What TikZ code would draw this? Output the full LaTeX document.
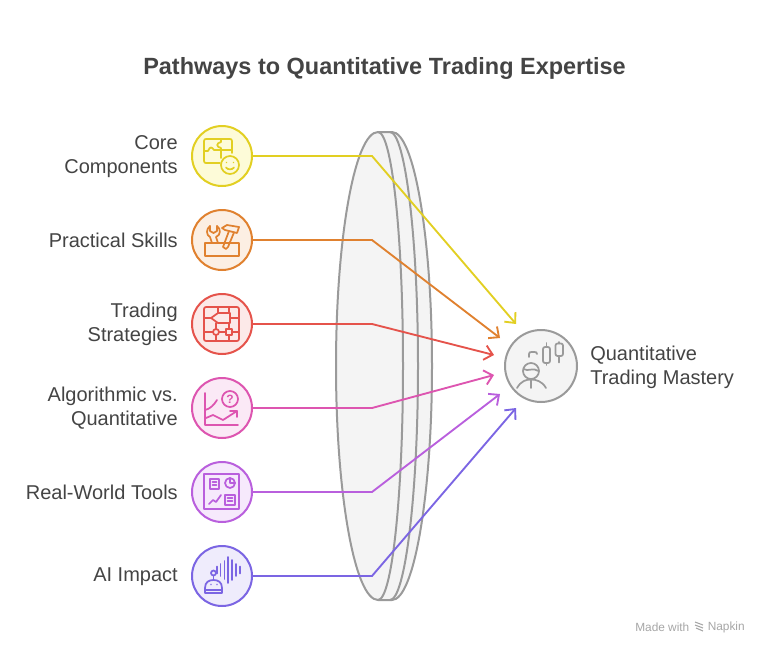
\documentclass[tikz,border=0pt]{standalone}
\usepackage{fontspec}
\setmainfont{Liberation Sans}
\usetikzlibrary{arrows.meta}
\definecolor{ink}{HTML}{444444}
\definecolor{lensline}{HTML}{9A9A9A}
\definecolor{lensfill}{HTML}{F4F4F4}
\definecolor{coreC}{HTML}{E2CF22}
\definecolor{coreF}{HTML}{FDFBD8}
\definecolor{skillC}{HTML}{E0812F}
\definecolor{skillF}{HTML}{FCEFE3}
\definecolor{stratC}{HTML}{E5534B}
\definecolor{stratF}{HTML}{FCE9E8}
\definecolor{algoC}{HTML}{DD55B0}
\definecolor{algoF}{HTML}{FBE9F6}
\definecolor{toolC}{HTML}{B95FDD}
\definecolor{toolF}{HTML}{F6E9FC}
\definecolor{aiC}{HTML}{7B65E3}
\definecolor{aiF}{HTML}{EFECFC}
\tikzset{
	badge/.style={circle, draw=#1, line width=1.5pt, minimum size=45pt, inner sep=0pt},
	label/.style={text=ink, font=\fontsize{15}{18}\selectfont, align=right, anchor=east, inner sep=0pt},
	icon/.style={line width=1.3pt, line cap=round, line join=round},
	link/.style={line width=1.4pt, -{Straight Barb[length=6pt,width=11pt,line width=1.4pt]}},
}
\begin{document}
\begin{tikzpicture}[x=0.75pt, y=-0.75pt]
	\useasboundingbox (0,0) rectangle (768,654);

	\node (title) [text=ink, font=\fontsize{17.6}{21}\selectfont\bfseries] at (384.5,68) {Pathways to Quantitative Trading Expertise};

	% lens
	\filldraw[lensline, fill=lensfill, line width=1.5pt]
		(378,132) -- (392,132) .. controls (414,132) and (432,237) .. (432,366)
		.. controls (432,495) and (414,600) .. (392,600) -- (378,600)
		.. controls (355,600) and (336,495) .. (336,366)
		.. controls (336,237) and (355,132) .. (378,132);
	\draw[lensline, line width=1.5pt] (378,132) .. controls (392,132) and (403,237) .. (403,366) .. controls (403,495) and (392,600) .. (378,600);
	\draw[lensline, line width=1.5pt] (390,132) .. controls (405,132) and (418,237) .. (418,366) .. controls (418,495) and (405,600) .. (390,600);

	% target
	\node (mastery) [badge=lensline, fill=lensfill, minimum size=54pt] at (541,366) {};
	\node (masterytext) [text=ink, font=\fontsize{15}{18}\selectfont, align=left, anchor=west, inner sep=0pt] at (590,367) {Quantitative\\Trading Mastery};

	% inputs
	\foreach \name/\yy/\col/\tx/\ty/\txt in {
		core/156/core/516/324/{Core\\Components},
		skill/240/skill/500/338/{Practical Skills},
		strat/324/strat/494/355/{Trading\\Strategies},
		algo/408/algo/494/375/{Algorithmic vs.\\Quantitative},
		tool/492/tool/500/394/{Real-World Tools},
		ai/576/ai/516/408/{AI Impact}}
	{
		\node (\name) [badge=\col C, fill=\col F] at (222,\yy) {};
		\node (\name text) [label] at (178,\yy+0.5) {\txt};
		\coordinate (\name bend) at (372,\yy);
		\coordinate (\name tip) at (\tx,\ty);
		\draw[link, \col C] (\name.east) -- (\name bend) -- (\name tip);
	}

	% core icon
	\begin{scope}[icon, coreC]
		\draw (232,153) -- (232,141) .. controls (232,139.5) and (231,139) .. (230,139) -- (206,139) .. controls (205,139) and (204,139.5) .. (204,141) -- (204,161) .. controls (204,162.5) and (205,163) .. (206,163) -- (220,163);
		\draw (204,151) -- (208,151) .. controls (210,146) and (212,147) .. (214,150) -- (232,150);
		\draw (221,158) -- (221,148) (221,139) -- (221,142) .. controls (216,143) and (216,147) .. (221,148);
		\draw (230,165) circle (9);
		\draw (226.5,162.5) -- (226.6,162.6) (233.5,162.5) -- (233.6,162.6);
		\draw (226,167.5) .. controls (228,170) and (232,170) .. (234,167.5);
	\end{scope}

	% skill icon
	\begin{scope}[icon, skillC]
		\draw (205,243) rectangle (239,256);
		\draw (210,226) .. controls (206,229) and (206,235) .. (210,237) -- (212,243);
		\draw (217,226) .. controls (221,229) and (221,235) .. (216,237) -- (218,243);
		\draw (210,226) -- (210,231) -- (213.5,233) -- (217,231) -- (217,226);
		\draw (222,228) -- (227,225) -- (239,227) -- (237,233) -- (225,230) -- cycle;
		\draw (229,231) -- (223,247) -- (226,249) -- (228,247) -- (234,232.5);
	\end{scope}

	% strategies icon
	\begin{scope}[icon, stratC]
		\draw[rounded corners=1.5pt] (204,307) rectangle (239,341);
		\draw (211,318) -- (218,313) -- (230,313) -- (230,323) -- (218,323) -- cycle;
		\draw (204,318) -- (211,318) (230,318) -- (239,318);
		\draw (218,307) -- (218,313) (229,307) -- (229,313);
		\draw (204,332) -- (213,332) (219,332) -- (226,332) (232,332) -- (239,332);
		\draw (216,332) circle (3);
		\draw (226,329) rectangle (232,335);
		\draw (216,323) -- (216,329) (229,323) -- (229,329);
		\draw (216,335) -- (216,341) (229,335) -- (229,341);
	\end{scope}

	% algo icon
	\begin{scope}[icon, algoC]
		\draw (205,393) -- (205,425) -- (238,425);
		\draw (205,410) .. controls (210,409) and (214,405) .. (217,400);
		\draw (206,418) -- (213,415) -- (223,420) -- (237,411);
		\draw (230,411) -- (237,411) -- (237,417);
		\draw (230,399) circle (8);
		\node (algoq) [algoC, font=\fontsize{9}{9}\selectfont\bfseries, inner sep=0pt] at (230,399) {?};
	\end{scope}

	% tools icon
	\begin{scope}[icon, toolC]
		\draw (204,474) rectangle (239,509);
		\draw (210,479) rectangle (219,489);
		\draw (212.5,482) -- (216.5,482) (212.5,485) -- (216.5,485);
		\draw (230,483) circle (5);
		\draw (230,483) -- (230,478) (230,483) -- (235,483);
		\draw (225,495) rectangle (235,505);
		\draw (227.5,498) -- (232.5,498) (227.5,501) -- (232.5,501);
		\draw (209,504) -- (213,500) -- (216,502) -- (221,495);
	\end{scope}

	% ai icon
	\begin{scope}[icon, aiC]
		\draw (205,593) -- (205,588) .. controls (205,582) and (209,580) .. (213.5,580) .. controls (218,580) and (222,582) .. (222,588) -- (222,593) -- cycle;
		\draw (205,590) -- (222,590);
		\draw (211,584.5) -- (211.1,584.6) (217,584.5) -- (217.1,584.6);
		\draw (213.5,573) circle (2.5);
		\draw (213.5,575.5) -- (213.5,580);
		\foreach \xx/\hh in {217/3.5, 220.5/6, 224.5/9, 228/13, 232/10, 236/6, 240/3.5}
		{
			\draw (\xx,570-\hh) -- (\xx,570+\hh);
		}
	\end{scope}

	% mastery icon
	\begin{scope}[icon, lensline]
		\draw[rounded corners=1.5pt] (543,347) rectangle (550,363);
		\draw (546.5,343) -- (546.5,347) (546.5,363) -- (546.5,365);
		\draw[rounded corners=1.5pt] (555.5,343.5) rectangle (563,356);
		\draw (559,342) -- (559,343.5) (559,356) -- (559,362.5);
		\draw (529,357) -- (529,354) .. controls (529,352) and (530,352) .. (532,352) -- (534,352) .. controls (536,352) and (537,352) .. (537,354);
		\draw (531,371) circle (8);
		\draw (523.5,369) .. controls (528,372) and (533,367) .. (538.5,371);
		\draw (531,379) -- (531,388);
		\draw (517,388) .. controls (521,381) and (526,379.5) .. (531,379.5) .. controls (536,379.5) and (542,381) .. (546,388);
	\end{scope}

	% footer
	\node (madewith) [text=black!35, font=\fontsize{8.9}{10}\selectfont, anchor=west, inner sep=0pt] at (635,627) {Made with};
	\node (napkin) [text=black!35, font=\fontsize{8.9}{10}\selectfont, anchor=east, inner sep=0pt] at (745,627) {Napkin};
	\draw[black!35, line width=0.8pt] (695,622) -- (703,625) (695,625) -- (703,628) (696,628) -- (703,631);
\end{tikzpicture}
\end{document}
